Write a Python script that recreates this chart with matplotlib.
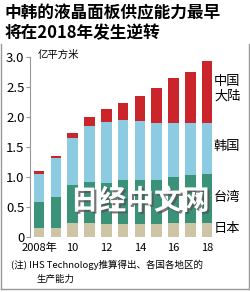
import matplotlib.pyplot as plt
import matplotlib.patheffects as pe
import numpy as np

plt.rcParams['font.family'] = ['Noto Sans CJK SC', 'DejaVu Sans']

years = list(range(2008, 2019))
japan = [0.15, 0.15, 0.23, 0.23, 0.22, 0.22, 0.22, 0.22, 0.24, 0.24, 0.24]
taiwan = [0.44, 0.52, 0.64, 0.69, 0.69, 0.73, 0.74, 0.73, 0.76, 0.79, 0.81]
korea = [0.47, 0.65, 0.79, 0.94, 1.01, 1.00, 0.98, 0.95, 0.90, 0.87, 0.86]
china = [0.04, 0.03, 0.08, 0.14, 0.22, 0.29, 0.42, 0.58, 0.76, 0.86, 1.03]
xlabels = ['2008年', '10', '12', '14', '16', '18']

fig = plt.figure(figsize=(2.5, 2.92), dpi=100)
ax = fig.add_axes([0.12, 0.188, 0.742, 0.616])

x = np.arange(len(years))
w = 0.63
b = np.zeros(len(years))
for vals, col in [(japan, '#cdc5a5'), (taiwan, '#3a9279'),
                  (korea, '#8dcbe2'), (china, '#c9252b')]:
    ax.bar(x, vals, w, bottom=b, color=col, edgecolor='none')
    b = b + np.array(vals)

ax.set_xlim(-0.536, 10.5)
ax.set_ylim(0, 3.0)
ax.set_yticks([0, 0.5, 1.0, 1.5, 2.0, 2.5, 3.0])
ax.set_yticklabels(['0', '0.5', '1.0', '1.5', '2.0', '2.5', '3.0'], fontsize=9.5)
ax.set_xticks(x[::2])
ax.set_xticklabels(xlabels, fontsize=8)
ax.tick_params(axis='y', length=3, width=0.8, color='#999999', pad=1)
ax.tick_params(axis='x', length=0, pad=4)
for s in ['top', 'right', 'bottom']:
    ax.spines[s].set_visible(False)
ax.spines['left'].set_color('#999999')

fig.text(0.02, 0.955, '中韩的液晶面板供应能力最早', fontsize=12, fontweight='bold', va='center')
fig.text(0.02, 0.887, '将在2018年发生逆转', fontsize=12, fontweight='bold', va='center')
fig.text(0.152, 0.812, '亿平方米', fontsize=7.5, va='center')

fig.text(0.856, 0.695, '中国\n大陆', fontsize=9.5, va='center', linespacing=1.15)
fig.text(0.856, 0.497, '韩国', fontsize=9.5, va='center')
fig.text(0.856, 0.325, '台湾', fontsize=9.5, va='center')
fig.text(0.856, 0.216, '日本', fontsize=9.5, va='center')

fig.text(0.56, 0.31, '日经中文网', fontsize=20, fontweight='bold', color='white',
         ha='center', va='center',
         path_effects=[pe.withSimplePatchShadow(offset=(1.5, -1.5), shadow_rgbFace='#555555', alpha=0.8)])

fig.text(0.045, 0.093, '(注) IHS Technology推算得出、各国各地区的', fontsize=6.8, va='center')
fig.text(0.145, 0.045, '生产能力', fontsize=6.8, va='center')

fig.add_artist(plt.Line2D([0.004, 0.004], [0.01, 0.85], color='#999999', lw=1))
fig.add_artist(plt.Line2D([0.994, 0.994], [0.01, 0.85], color='#999999', lw=1))
fig.add_artist(plt.Line2D([0.004, 0.994], [0.01, 0.01], color='#999999', lw=1))

fig.savefig('out.png', dpi=100)
